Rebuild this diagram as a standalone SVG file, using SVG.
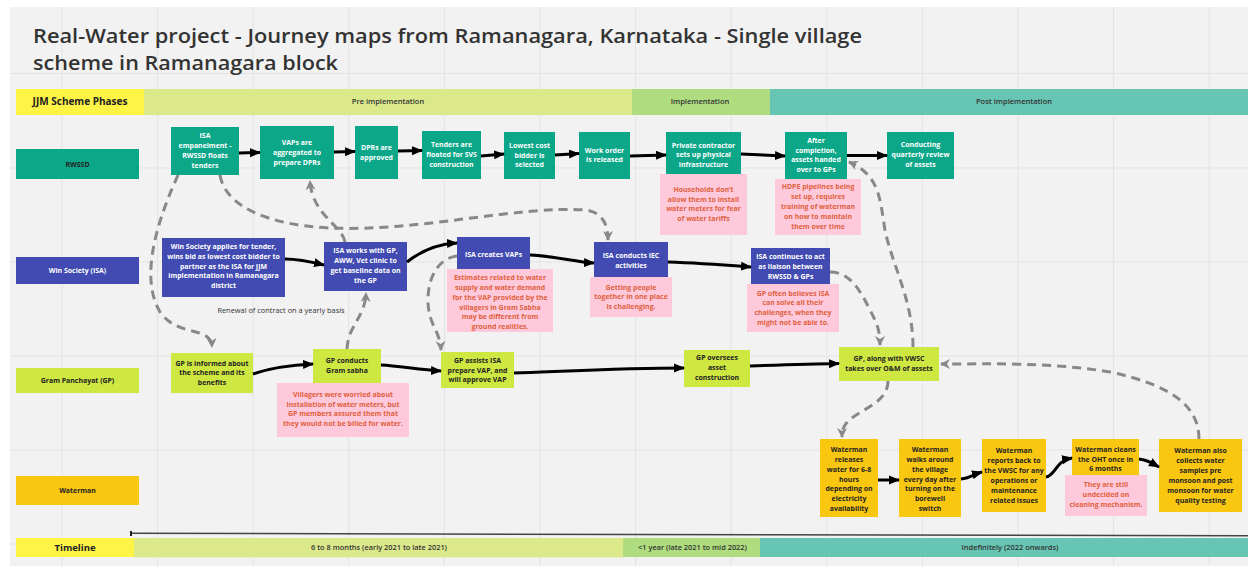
<svg xmlns="http://www.w3.org/2000/svg" width="1248" height="572" viewBox="0 0 1248 572">
  <defs>
    <style>
      .ttl { font-family: "Open Sans", "Noto Sans", sans-serif; font-weight: 600; font-size: 20.5px; fill: #333; }
      .nt { font-family: "Open Sans", "Noto Sans", sans-serif; font-weight: 700; font-size: 6.95px; text-anchor: middle; fill: #fff; }
      .dk { fill: #222; }
      .pk { fill: #e0603c; }
      .ph { font-family: "Open Sans", "Noto Sans", sans-serif; font-weight: 600; font-size: 7.5px; text-anchor: middle; fill: #333; }
      .tl { font-family: "Open Sans", "Noto Sans", sans-serif; font-weight: 600; font-size: 7.4px; text-anchor: middle; fill: #333; }
      .teal { fill: #0ca789; }
      .blue { fill: #414bb2; }
      .lime { fill: #cee741; }
      .amber { fill: #fac710; }
      .pink { fill: #ffc9dc; }
      .solid { fill: none; stroke: #000; stroke-width: 3; marker-end: url(#ah); }
      .dash { fill: none; stroke: #888; stroke-width: 3; stroke-dasharray: 9 6; marker-end: url(#ahg); }
      .grid line { stroke: #e3e3e3; stroke-width: 1; }
    </style>
    <marker id="ah" markerUnits="userSpaceOnUse" markerWidth="11" markerHeight="10" refX="10" refY="5" orient="auto">
      <path d="M0,0.5 L11,5 L0,9.5 z" fill="#000"/>
    </marker>
    <marker id="ahg" markerUnits="userSpaceOnUse" markerWidth="11" markerHeight="11" refX="9" refY="5.5" orient="auto">
      <path d="M0,0.5 L10,5.5 L0,10.5 L3,5.5 z" fill="#888"/>
    </marker>
  </defs>

  <!-- page and board background -->
  <rect x="0" y="0" width="1248" height="572" fill="#fff"/>
  <rect x="10" y="7" width="1238" height="559" fill="#f2f2f2"/>
  <g class="grid">
    <line x1="62" y1="7" x2="62" y2="566"/>
    <line x1="157.6" y1="7" x2="157.6" y2="566"/>
    <line x1="253.2" y1="7" x2="253.2" y2="566"/>
    <line x1="348.8" y1="7" x2="348.8" y2="566"/>
    <line x1="444.4" y1="7" x2="444.4" y2="566"/>
    <line x1="540" y1="7" x2="540" y2="566"/>
    <line x1="635.6" y1="7" x2="635.6" y2="566"/>
    <line x1="731.2" y1="7" x2="731.2" y2="566"/>
    <line x1="826.8" y1="7" x2="826.8" y2="566"/>
    <line x1="922.4" y1="7" x2="922.4" y2="566"/>
    <line x1="1018" y1="7" x2="1018" y2="566"/>
    <line x1="1113.6" y1="7" x2="1113.6" y2="566"/>
    <line x1="1209.2" y1="7" x2="1209.2" y2="566"/>
    <line x1="10" y1="73.5" x2="1248" y2="73.5"/>
    <line x1="10" y1="168" x2="1248" y2="168"/>
    <line x1="10" y1="262" x2="1248" y2="262"/>
    <line x1="10" y1="356" x2="1248" y2="356"/>
    <line x1="10" y1="450" x2="1248" y2="450"/>
    <line x1="10" y1="544" x2="1248" y2="544"/>
  </g>

  <!-- title -->
  <text class="ttl" x="33" y="42.5" textLength="829" lengthAdjust="spacingAndGlyphs">Real-Water project - Journey maps from Ramanagara, Karnataka - Single village</text>
  <text class="ttl" x="33" y="70" textLength="305" lengthAdjust="spacingAndGlyphs">scheme in Ramanagara block</text>

  <!-- phase header -->
  <g id="phases">
    <rect x="16" y="89" width="128" height="26" fill="#fef445"/>
    <text x="80" y="105.2" font-family="Open Sans, Noto Sans, sans-serif" font-weight="700" font-size="10" text-anchor="middle" fill="#222">JJM Scheme Phases</text>
    <rect x="144" y="89" width="488" height="26" fill="#dce98b"/>
    <text class="ph" x="388" y="104.3">Pre implementation</text>
    <rect x="632" y="89" width="138" height="26" fill="#aedc7e"/>
    <text class="ph" x="700" y="104.3">Implementation</text>
    <rect x="770" y="89" width="478" height="26" fill="#67c6b3"/>
    <text class="ph" x="1014" y="104.3">Post implementation</text>
  </g>

  <!-- swimlane labels -->
  <g id="lane-rwssd">
    <rect class="teal" x="16" y="149" width="123" height="30"/>
    <text class="nt dk" x="77.5" y="166.7">RWSSD</text>
  </g>
  <g id="lane-isa">
    <rect class="blue" x="16" y="257" width="123" height="27"/>
    <text class="nt" x="77.5" y="272.9">Win Society (ISA)</text>
  </g>
  <g id="lane-gp">
    <rect class="lime" x="16" y="368" width="123" height="25"/>
    <text class="nt dk" x="77.5" y="382.9">Gram Panchayat (GP)</text>
  </g>
  <g id="lane-waterman">
    <rect class="amber" x="16" y="476" width="123" height="29"/>
    <text class="nt dk" x="77.5" y="492.9">Waterman</text>
  </g>

  <!-- RWSSD steps -->
  <g id="isa-empanelment">
    <rect class="teal" x="171" y="127" width="68" height="48"/>
    <text class="nt"><tspan x="205" y="137.9">ISA</tspan><tspan x="205" y="147.9">empanelment -</tspan><tspan x="205" y="157.9">RWSSD floats</tspan><tspan x="205" y="167.9">tenders</tspan></text>
  </g>
  <g id="vaps-aggregated">
    <rect class="teal" x="260" y="126" width="74" height="53"/>
    <text class="nt"><tspan x="297" y="145.1">VAPs are</tspan><tspan x="297" y="154.8">aggregated to</tspan><tspan x="297" y="164.5">prepare DPRs</tspan></text>
  </g>
  <g id="dprs-approved">
    <rect class="teal" x="355" y="126" width="43" height="53"/>
    <text class="nt"><tspan x="376.5" y="150.1">DPRs are</tspan><tspan x="376.5" y="159.8">approved</tspan></text>
  </g>
  <g id="tenders-floated">
    <rect class="teal" x="422" y="131" width="59" height="48"/>
    <text class="nt"><tspan x="451.5" y="147.1">Tenders are</tspan><tspan x="451.5" y="157">floated for SVS</tspan><tspan x="451.5" y="166.8">construction</tspan></text>
  </g>
  <g id="lowest-bidder">
    <rect class="teal" x="504" y="132" width="51" height="47"/>
    <text class="nt"><tspan x="529.5" y="147.7">Lowest cost</tspan><tspan x="529.5" y="157.6">bidder is</tspan><tspan x="529.5" y="167.4">selected</tspan></text>
  </g>
  <g id="work-order">
    <rect class="teal" x="579" y="132" width="51" height="47"/>
    <text class="nt"><tspan x="604.5" y="152.7">Work order</tspan><tspan x="604.5" y="162.4">is released</tspan></text>
  </g>
  <g id="private-contractor">
    <rect class="teal" x="666" y="132" width="75" height="42"/>
    <text class="nt"><tspan x="703.5" y="147.7">Private contractor</tspan><tspan x="703.5" y="157.4">sets up physical</tspan><tspan x="703.5" y="166.9">infrastructure</tspan></text>
  </g>
  <g id="assets-handed-over">
    <rect class="teal" x="785" y="132" width="62" height="47"/>
    <text class="nt"><tspan x="816" y="142.7">After</tspan><tspan x="816" y="152.6">completion,</tspan><tspan x="816" y="162.4">assets handed</tspan><tspan x="816" y="172.3">over to GPs</tspan></text>
  </g>
  <g id="quarterly-review">
    <rect class="teal" x="887" y="132" width="67" height="47"/>
    <text class="nt"><tspan x="920.5" y="147.4">Conducting</tspan><tspan x="920.5" y="157.3">quarterly review</tspan><tspan x="920.5" y="167.1">of assets</tspan></text>
  </g>
  <g id="note-households">
    <rect class="pink" x="660" y="174" width="87" height="61"/>
    <text class="nt pk"><tspan x="703.5" y="191.7">Households don’t</tspan><tspan x="703.5" y="201.6">allow them to install</tspan><tspan x="703.5" y="211.4">water meters for fear</tspan><tspan x="703.5" y="221.2">of water tariffs</tspan></text>
  </g>
  <g id="note-hdpe">
    <rect class="pink" x="775" y="179" width="86" height="56"/>
    <text class="nt pk"><tspan x="818" y="188.6">HDPE pipelines being</tspan><tspan x="818" y="198.6">set up, requires</tspan><tspan x="818" y="208.6">training of waterman</tspan><tspan x="818" y="218.6">on how to maintain</tspan><tspan x="818" y="228.5">them over time</tspan></text>
  </g>

  <!-- Win Society (ISA) steps -->
  <g id="win-society-bid">
    <rect class="blue" x="162" y="238" width="123" height="59"/>
    <text class="nt"><tspan x="223.5" y="249.1">Win Society applies for tender,</tspan><tspan x="223.5" y="258.8">wins bid as lowest cost bidder to</tspan><tspan x="223.5" y="268.5">partner as the ISA for JJM</tspan><tspan x="223.5" y="278.2">implementation in Ramanagara</tspan><tspan x="223.5" y="287.9">district</tspan></text>
  </g>
  <g id="isa-baseline">
    <rect class="blue" x="324" y="242" width="83" height="49"/>
    <text class="nt"><tspan x="365.5" y="253.1">ISA works with GP,</tspan><tspan x="365.5" y="263">AWW, Vet clinic to</tspan><tspan x="365.5" y="272.9">get baseline data on</tspan><tspan x="365.5" y="282.6">the GP</tspan></text>
  </g>
  <g id="isa-creates-vaps">
    <rect class="blue" x="457" y="237" width="73" height="32"/>
    <text class="nt" x="493.5" y="256.7">ISA creates VAPs</text>
  </g>
  <g id="isa-iec">
    <rect class="blue" x="594" y="242" width="74" height="35"/>
    <text class="nt"><tspan x="631" y="258.4">ISA conducts IEC</tspan><tspan x="631" y="268.2">activities</tspan></text>
  </g>
  <g id="isa-liaison">
    <rect class="blue" x="751" y="248" width="79" height="36"/>
    <text class="nt"><tspan x="790.5" y="259.1">ISA continues to act</tspan><tspan x="790.5" y="268.9">as liaison between</tspan><tspan x="790.5" y="278.5">RWSSD &amp; GPs</tspan></text>
  </g>
  <g id="note-estimates">
    <rect class="pink" x="447" y="269" width="106" height="63"/>
    <text class="nt pk"><tspan x="500" y="280.1">Estimates related to water</tspan><tspan x="500" y="289.9">supply and water demand</tspan><tspan x="500" y="299.7">for the VAP provided by the</tspan><tspan x="500" y="309.5">villagers in Gram Sabha</tspan><tspan x="500" y="319.3">may be different from</tspan><tspan x="500" y="329.1">ground realities.</tspan></text>
  </g>
  <g id="note-gathering">
    <rect class="pink" x="590" y="277" width="82" height="40"/>
    <text class="nt pk"><tspan x="631" y="289.7">Getting people</tspan><tspan x="631" y="299.3">together in one place</tspan><tspan x="631" y="308.9">is challenging.</tspan></text>
  </g>
  <g id="note-expectations">
    <rect class="pink" x="747" y="284" width="92" height="48"/>
    <text class="nt pk"><tspan x="793" y="295.7">GP often believes ISA</tspan><tspan x="793" y="305.4">can solve all their</tspan><tspan x="793" y="315.1">challenges, when they</tspan><tspan x="793" y="324.8">might not be able to.</tspan></text>
  </g>
  <text x="281" y="312.5" font-family="Open Sans, Noto Sans, sans-serif" font-size="7.4" text-anchor="middle" fill="#333">Renewal of contract on a yearly basis</text>

  <!-- Gram Panchayat steps -->
  <g id="gp-informed">
    <rect class="lime" x="171" y="353" width="82" height="40"/>
    <text class="nt dk"><tspan x="212" y="365.7">GP is informed about</tspan><tspan x="212" y="375.2">the scheme and its</tspan><tspan x="212" y="384.7">benefits</tspan></text>
  </g>
  <g id="gp-gram-sabha">
    <rect class="lime" x="313" y="349" width="68" height="35"/>
    <text class="nt dk"><tspan x="347" y="363.1">GP conducts</tspan><tspan x="347" y="372.7">Gram sabha</tspan></text>
  </g>
  <g id="gp-assists">
    <rect class="lime" x="441" y="352" width="73" height="36"/>
    <text class="nt dk"><tspan x="477.5" y="362.9">GP assists ISA</tspan><tspan x="477.5" y="372.6">prepare VAP, and</tspan><tspan x="477.5" y="382.3">will approve VAP</tspan></text>
  </g>
  <g id="gp-oversees">
    <rect class="lime" x="684" y="350" width="66" height="37"/>
    <text class="nt dk"><tspan x="717" y="359.7">GP oversees</tspan><tspan x="717" y="369.7">asset</tspan><tspan x="717" y="379.7">construction</tspan></text>
  </g>
  <g id="gp-om">
    <rect class="lime" x="839" y="347" width="100" height="34"/>
    <text class="nt dk"><tspan x="889" y="360.7">GP, along with VWSC</tspan><tspan x="889" y="370.7">takes over O&amp;M of assets</tspan></text>
  </g>
  <g id="note-meters">
    <rect class="pink" x="277" y="383" width="132" height="54"/>
    <text class="nt pk"><tspan x="343" y="396.7">Villagers were worried about</tspan><tspan x="343" y="406.6">installation of water meters, but</tspan><tspan x="343" y="416.4">GP members assured them that</tspan><tspan x="343" y="426.3">they would not be billed for water.</tspan></text>
  </g>

  <!-- Waterman steps -->
  <g id="waterman-release">
    <rect class="amber" x="820" y="439" width="58" height="78"/>
    <text class="nt dk"><tspan x="849" y="452.4">Waterman</tspan><tspan x="849" y="462.1">releases</tspan><tspan x="849" y="471.8">water for 6-8</tspan><tspan x="849" y="481.5">hours</tspan><tspan x="849" y="491.2">depending on</tspan><tspan x="849" y="500.9">electricity</tspan><tspan x="849" y="510.6">availability</tspan></text>
  </g>
  <g id="waterman-rounds">
    <rect class="amber" x="899" y="439" width="62" height="78"/>
    <text class="nt dk"><tspan x="930" y="452.4">Waterman</tspan><tspan x="930" y="462.1">walks around</tspan><tspan x="930" y="471.8">the village</tspan><tspan x="930" y="481.5">every day after</tspan><tspan x="930" y="491.2">turning on the</tspan><tspan x="930" y="500.9">borewell</tspan><tspan x="930" y="510.6">switch</tspan></text>
  </g>
  <g id="waterman-reports">
    <rect class="amber" x="982" y="439" width="64" height="73"/>
    <text class="nt dk"><tspan x="1014" y="453.1">Waterman</tspan><tspan x="1014" y="463">reports back to</tspan><tspan x="1014" y="472.9">the VWSC for any</tspan><tspan x="1014" y="482.8">operations or</tspan><tspan x="1014" y="492.7">maintenance</tspan><tspan x="1014" y="502.6">related issues</tspan></text>
  </g>
  <g id="waterman-oht">
    <rect class="amber" x="1072" y="439" width="67" height="36"/>
    <text class="nt dk"><tspan x="1105.5" y="451.7">Waterman cleans</tspan><tspan x="1105.5" y="461.6">the OHT once in</tspan><tspan x="1105.5" y="471.4">6 months</tspan></text>
  </g>
  <g id="note-cleaning">
    <rect class="pink" x="1065" y="475" width="82" height="41"/>
    <text class="nt pk"><tspan x="1106" y="487.4">They are still</tspan><tspan x="1106" y="497.4">undecided on</tspan><tspan x="1106" y="507.4">cleaning mechanism.</tspan></text>
  </g>
  <g id="waterman-samples">
    <rect class="amber" x="1159" y="439" width="83" height="73"/>
    <text class="nt dk"><tspan x="1200.5" y="453.1">Waterman also</tspan><tspan x="1200.5" y="463">collects water</tspan><tspan x="1200.5" y="472.9">samples pre</tspan><tspan x="1200.5" y="482.8">monsoon and post</tspan><tspan x="1200.5" y="492.7">monsoon for water</tspan><tspan x="1200.5" y="502.6">quality testing</tspan></text>
  </g>

  <!-- timeline -->
  <g id="timeline">
    <line x1="131" y1="533.3" x2="1248" y2="535.8" stroke="#444" stroke-width="1.5"/>
    <line x1="131" y1="531" x2="131" y2="536" stroke="#222" stroke-width="2"/>
    <rect x="16" y="538" width="118" height="19" fill="#fef445"/>
    <text x="75" y="550.8" font-family="Open Sans, Noto Sans, sans-serif" font-weight="700" font-size="9.5" text-anchor="middle" fill="#222">Timeline</text>
    <rect x="134" y="538" width="489" height="19.5" fill="#dce98b"/>
    <text class="tl" x="379" y="549.6">6 to 8 months (early 2021 to late 2021)</text>
    <rect x="623" y="538" width="137" height="19" fill="#aedc7e"/>
    <text class="tl" x="692.5" y="549.6">&lt;1 year (late 2021 to mid 2022)</text>
    <rect x="760" y="538" width="488" height="19" fill="#67c6b3"/>
    <text class="tl" x="1010" y="549.6">Indefinitely (2022 onwards)</text>
  </g>

  <!-- connectors -->
  <g id="connectors">
    <!-- RWSSD flow -->
    <path class="solid" d="M239,153 L260,152.5"/>
    <path class="solid" d="M334,152 L355,151.5"/>
    <path class="solid" d="M398,151 L422,150.5"/>
    <path class="solid" d="M481,156 L504,154"/>
    <path class="solid" d="M555,155 L579,153.5"/>
    <path class="solid" d="M630,156 L666,155"/>
    <path class="solid" d="M741,154 L785,156"/>
    <path class="solid" d="M847,155.5 L887,155.5"/>
    <!-- ISA flow -->
    <path class="solid" d="M285,259 C300,259 312,262 324,265"/>
    <path class="solid" d="M407,262 C422,250 437,244 457,243"/>
    <path class="solid" d="M530,255 C555,256 575,262 594,263"/>
    <path class="solid" d="M668,262 C700,263 725,265 751,267"/>
    <!-- GP flow -->
    <path class="solid" d="M253,374 C270,368 290,365 313,364"/>
    <path class="solid" d="M381,365 C400,366 420,370 441,371"/>
    <path class="solid" d="M514,373 C570,371 630,368 684,368"/>
    <path class="solid" d="M750,366 C780,365 810,364 839,363.5"/>
    <!-- Waterman flow -->
    <path class="solid" d="M878,480 L899,480"/>
    <path class="solid" d="M961,479 C970,478 975,474 982,472"/>
    <path class="solid" d="M1046,477 C1056,475 1055,461 1072,458"/>
    <path class="solid" d="M1139,459 C1148,460 1152,463 1159,467"/>
    <!-- cross-lane links -->
    <path class="dash" d="M178,175 C160,215 138,275 160,312 C178,338 211,325 212,347"/>
    <path class="dash" d="M220,175 C225,205 265,225 330,228 C420,232 520,205 585,210 C603,212 608,225 608,240"/>
    <path class="dash" d="M345,242 C342,225 312,215 310,181"/>
    <path class="dash" d="M347,349 C348,325 365,318 366,293"/>
    <path class="dash" d="M457,256 C440,258 428,275 428,300 C428,325 440,330 441,350"/>
    <path class="dash" d="M830,272 C850,272 860,290 870,310 C878,325 880,332 880,345"/>
    <path class="dash" d="M913,347 C913,300 892,265 885,230 C880,200 880,175 849,162"/>
    <path class="dash" d="M888,381 C888,405 855,410 845,425 C842,430 842,433 842,437"/>
    <path class="dash" d="M1199,439 C1199,405 1170,385 1110,372 C1050,362 990,364 941,364"/>
  </g>
</svg>
